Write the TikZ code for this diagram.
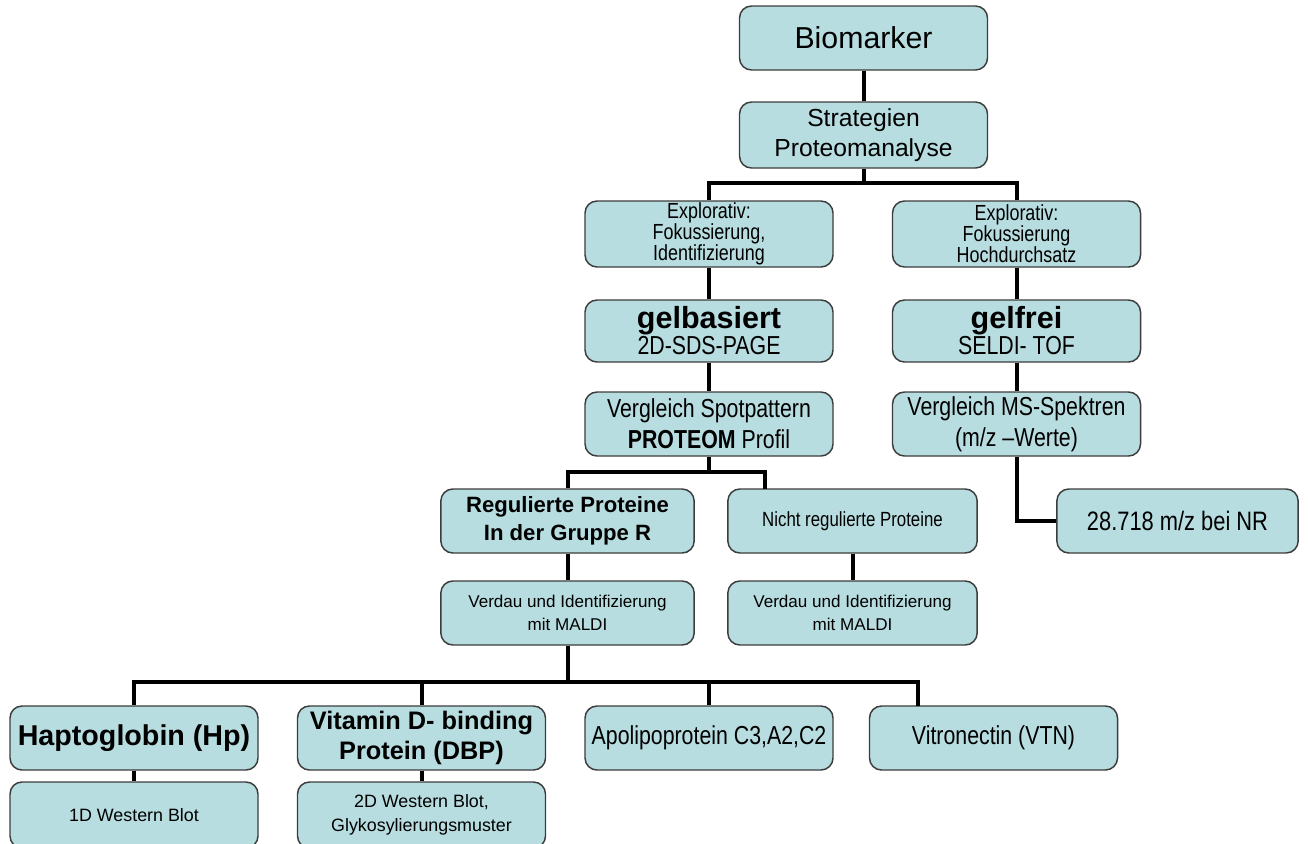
\documentclass[tikz,border=0pt]{standalone}
\usepackage{fontspec}
\setmainfont{Liberation Sans}
\newfontfamily\narrowfont[FakeStretch=0.82]{Liberation Sans}
\definecolor{boxfill}{RGB}{183,221,224}
\definecolor{boxline}{RGB}{60,60,60}

\begin{document}
\begin{tikzpicture}[x=0.75pt, y=-0.75pt,
    box/.style={draw=boxline, fill=boxfill, line width=1.1pt, rounded corners=9pt,
      minimum width=186pt, minimum height=48pt, align=center, inner sep=1pt},
    link/.style={line width=3pt}]
  \useasboundingbox (0,0) rectangle (1309,843);

  % Kopf
  \node[box, font=\fontsize{22.7}{27}\selectfont] (bio) at (863.5,38) {Biomarker};
  \node[box, minimum height=49.5pt, font=\fontsize{18.5}{22.5}\selectfont] (strat) at (863.5,135) {Strategien\\Proteomanalyse};

  % Explorativ
  \node[box, minimum height=49.5pt, font=\narrowfont\fontsize{16.4}{15.8}\selectfont] (exL) at (709,234) {Explorativ:\\Fokussierung,\\Identifizierung};
  \node[box, minimum height=49.5pt, font=\narrowfont\fontsize{16.4}{15.8}\selectfont] (exR) at (1016.5,234) {Explorativ:\\Fokussierung\\Hochdurchsatz};

  % gelbasiert / gelfrei
  \node[box, minimum height=46.5pt] (gelb) at (709,331) {{\fontsize{22.9}{26}\selectfont\bfseries gelbasiert}\\{\narrowfont\fontsize{19.5}{22}\selectfont 2D-SDS-PAGE}};
  \node[box, minimum height=46.5pt] (gelf) at (1016.5,331) {{\fontsize{22.9}{26}\selectfont\bfseries gelfrei}\\{\narrowfont\fontsize{19.5}{22}\selectfont SELDI- TOF}};

  % Vergleich
  \node[box, font=\narrowfont\fontsize{19.5}{23.5}\selectfont] (vgL) at (709,424) {Vergleich Spotpattern\\{\bfseries PROTEOM} Profil};
  \node[box, font=\narrowfont\fontsize{19.5}{23.5}\selectfont] (vgR) at (1016.5,424) {Vergleich MS-Spektren\\(m/z –Werte)};

  % Proteine
  \node[box, minimum width=190pt, font=\bfseries\fontsize{16.6}{21}\selectfont] (reg) at (567.5,521) {Regulierte Proteine\\In der Gruppe R};
  \node[box, minimum width=187pt, font=\narrowfont\fontsize{15.4}{19}\selectfont] (nicht) at (852.5,521) {Nicht regulierte Proteine};
  \node[box, minimum width=181pt, font=\narrowfont\fontsize{20}{24}\selectfont] (nr) at (1177.5,521) {28.718 m/z bei NR};

  % Verdau
  \node[box, minimum width=190pt, font=\fontsize{12.8}{17}\selectfont] (vdL) at (567.5,613) {Verdau und Identifizierung\\mit MALDI};
  \node[box, minimum width=187pt, font=\fontsize{12.8}{17}\selectfont] (vdR) at (852.5,613) {Verdau und Identifizierung\\mit MALDI};

  % Biomarker-Kandidaten
  \node[box, font=\bfseries\fontsize{21.5}{25}\selectfont] (hap) at (134,738) {Haptoglobin (Hp)};
  \node[box, font=\bfseries\fontsize{19}{22.5}\selectfont] (vitd) at (421.5,738) {Vitamin D- binding\\Protein (DBP)};
  \node[box, font=\narrowfont\fontsize{19.5}{22}\selectfont] (apo) at (709,738) {Apolipoprotein C3,A2,C2};
  \node[box, font=\narrowfont\fontsize{19.5}{22}\selectfont] (vitro) at (993.5,738) {Vitronectin (VTN)};

  % Western Blot
  \node[box, minimum height=49.5pt, font=\fontsize{13.4}{18}\selectfont] (wb1) at (134,815) {1D Western Blot};
  \node[box, minimum height=49.5pt, font=\fontsize{13.4}{18}\selectfont] (wb2) at (421.5,815) {2D Western Blot,\\Glykosylierungsmuster};

  % Verzweigungspunkte
  \coordinate (barA) at (863.5,183);
  \coordinate (barB) at (709,472);
  \coordinate (nichtIn) at (765,489);
  \coordinate (barC) at (567.5,682);
  \coordinate (vitroIn) at (918,706);

  % Verbindungen
  \draw[link] (bio) -- (strat);
  \draw[link] (strat) -- (barA);
  \draw[link] (barA) -| (exL);
  \draw[link] (barA) -| (exR);
  \draw[link] (exL) -- (gelb);
  \draw[link] (exR) -- (gelf);
  \draw[link] (gelb) -- (vgL);
  \draw[link] (gelf) -- (vgR);
  \draw[link] (vgL) -- (barB);
  \draw[link] (barB) -| (reg);
  \draw[link] (barB) -| (nichtIn);
  \draw[link] (vgR) |- (nr);
  \draw[link] (reg) -- (vdL);
  \draw[link] (nicht) -- (vdR);
  \draw[link] (vdL) -- (barC);
  \draw[link] (barC) -| (hap);
  \draw[link] (barC) -| (vitd);
  \draw[link] (barC) -| (apo);
  \draw[link] (barC) -| (vitroIn);
  \draw[link] (hap) -- (wb1);
  \draw[link] (vitd) -- (wb2);
\end{tikzpicture}
\end{document}
